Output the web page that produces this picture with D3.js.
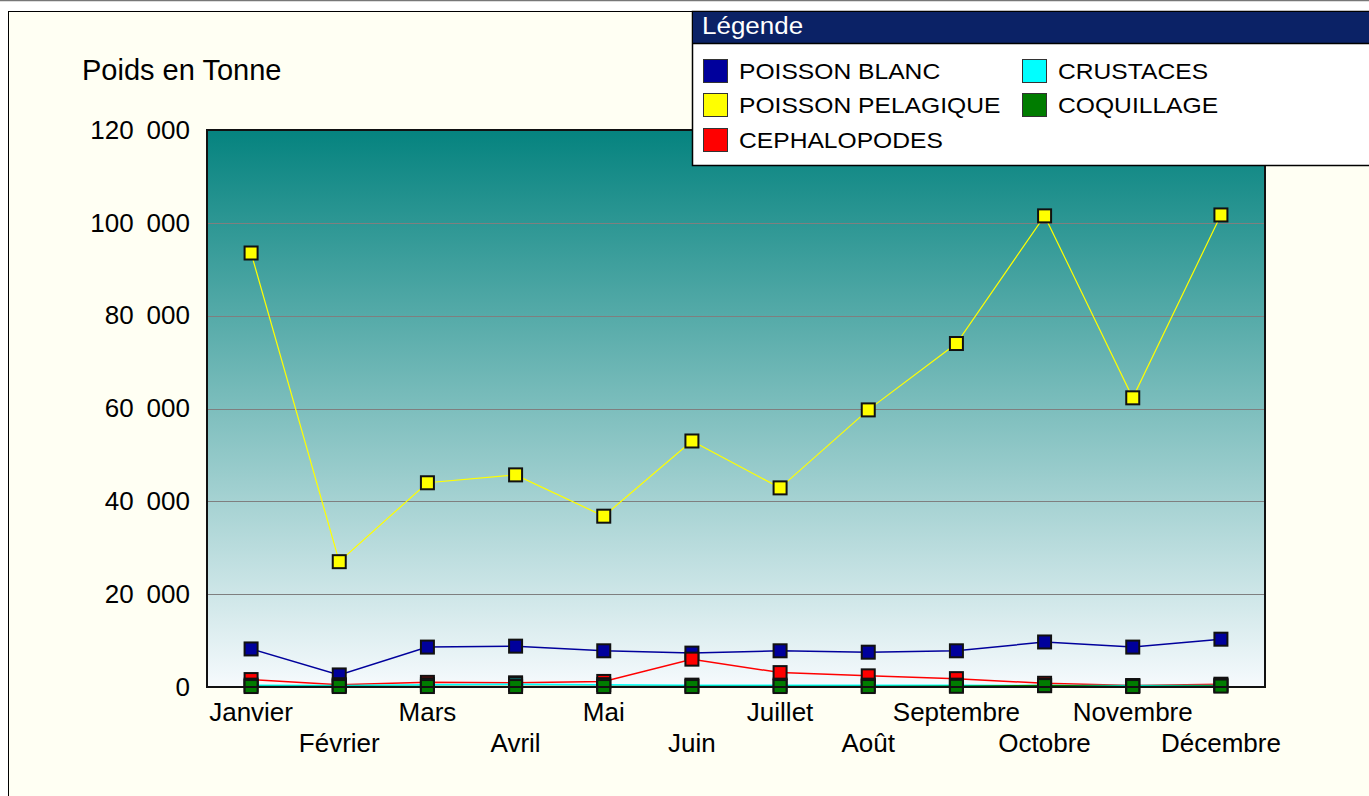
<!DOCTYPE html>
<html lang="fr">
<head>
    <meta charset="UTF-8">
    <title>Poids en Tonne</title>
    <style>
        body { margin: 0; background: #fff; }
        svg text { font-family: "Liberation Sans", Arial, sans-serif; }
    </style>
</head>
<body>
    <script src="https://d3js.org/d3.v7.min.js"></script>
    <script>
        // data
        const months = ['Janvier', 'Février', 'Mars', 'Avril', 'Mai', 'Juin', 'Juillet', 'Août', 'Septembre', 'Octobre', 'Novembre', 'Décembre'];
        const poissonBlanc = [8200, 2600, 8600, 8800, 7800, 7300, 7800, 7500, 7800, 9700, 8600, 10300];
        const poissonPelagique = [93500, 27000, 44000, 45700, 36800, 53000, 42900, 59700, 74000, 101500, 62300, 101700];
        const cephalopodes = [1600, 500, 1000, 900, 1200, 6000, 3100, 2400, 1800, 800, 300, 600];
        const crustaces = [400, 300, 500, 600, 500, 400, 400, 400, 400, 300, 300, 300];
        const coquillage = [100, 100, 100, 100, 100, 100, 100, 100, 150, 300, 100, 200];
        const yTicks = [0, 20000, 40000, 60000, 80000, 100000, 120000];

        const series = [
            { name: 'POISSON BLANC', values: poissonBlanc, color: '#00009c' },
            { name: 'POISSON PELAGIQUE', values: poissonPelagique, color: '#ffff00' },
            { name: 'CEPHALOPODES', values: cephalopodes, color: '#ff0000' },
            { name: 'CRUSTACES', values: crustaces, color: '#00ffff' },
            { name: 'COQUILLAGE', values: coquillage, color: '#007c00' }
        ];

        const W = 1369, H = 796;
        const svg = d3.select('body').append('svg')
            .attr('width', W)
            .attr('height', H);

        // outer frame
        svg.append('line').attr('x1', 0).attr('x2', W).attr('y1', 0.5).attr('y2', 0.5)
            .attr('stroke', '#777').attr('stroke-width', 1.5);
        svg.append('rect')
            .attr('x', 8.5).attr('y', 11.5).attr('width', W).attr('height', H)
            .attr('fill', '#fffff3').attr('stroke', '#000').attr('stroke-width', 1);

        const x = d3.scaleBand().domain(months).range([207, 1265]);
        const y = d3.scaleLinear().domain([0, 120000]).range([687, 130]);
        const cx = d => x(d) + x.bandwidth() / 2;

        // plot background gradient
        const grad = svg.append('defs').append('linearGradient')
            .attr('id', 'bg').attr('x1', 0).attr('x2', 0).attr('y1', 0).attr('y2', 1);
        grad.append('stop').attr('offset', '0%').attr('stop-color', '#05837f');
        grad.append('stop').attr('offset', '50%').attr('stop-color', '#7dbebd');
        grad.append('stop').attr('offset', '100%').attr('stop-color', '#f6fafd');

        svg.append('rect')
            .attr('x', 207).attr('y', 130).attr('width', 1058).attr('height', 557)
            .attr('fill', 'url(#bg)');

        // grid lines
        svg.selectAll('.grid')
            .data(yTicks.slice(1, -1))
            .enter()
            .append('line')
            .attr('x1', 207).attr('x2', 1265)
            .attr('y1', d => Math.round(y(d)) + 0.5).attr('y2', d => Math.round(y(d)) + 0.5)
            .attr('stroke', '#7f7f7f').attr('stroke-width', 1);

        // y axis labels
        const fmt = d => d3.format(',')(d).replace(/,/g, '\u2002');
        const yAxis = svg.append('g')
            .attr('transform', 'translate(207,0)')
            .call(d3.axisLeft(y).tickValues(yTicks).tickSize(0).tickPadding(17).tickFormat(fmt));
        yAxis.select('.domain').remove();
        yAxis.selectAll('text')
            .attr('font-size', 26)
            .attr('font-family', '"Liberation Sans", Arial, sans-serif')
            .attr('fill', '#000');

        // x axis labels, staggered
        const xAxis = svg.append('g')
            .attr('transform', 'translate(0,687)')
            .call(d3.axisBottom(x).tickSize(0));
        xAxis.select('.domain').remove();
        xAxis.selectAll('text')
            .attr('font-size', 26)
            .attr('font-family', '"Liberation Sans", Arial, sans-serif')
            .attr('fill', '#000')
            .attr('dy', 0)
            .attr('y', (d, i) => i % 2 === 0 ? 34 : 65);

        svg.append('text')
            .attr('x', 82).attr('y', 80)
            .attr('font-size', 29)
            .text('Poids en Tonne');

        // lines
        const line = d3.line()
            .x((d, i) => cx(months[i]))
            .y(d => y(d));

        series.forEach(s => {
            svg.append('path')
                .datum(s.values)
                .attr('d', line)
                .attr('fill', 'none')
                .attr('stroke', s.color)
                .attr('stroke-width', s.name === 'POISSON PELAGIQUE' ? 1.2 : 1.5);
        });

        // markers
        series.forEach(s => {
            svg.append('g').selectAll('rect')
                .data(s.values)
                .enter()
                .append('rect')
                .attr('x', (d, i) => cx(months[i]) - 6.5)
                .attr('y', d => y(d) - 6.5)
                .attr('width', 13).attr('height', 13)
                .attr('fill', s.color)
                .attr('stroke', '#111').attr('stroke-width', 2);
        });

        // plot border
        svg.append('rect')
            .attr('x', 207).attr('y', 130).attr('width', 1058).attr('height', 557)
            .attr('fill', 'none').attr('stroke', '#111').attr('stroke-width', 2);

        // legend
        const lg = svg.append('g');
        lg.append('rect')
            .attr('x', 692.5).attr('y', 11.5).attr('width', 700).attr('height', 154)
            .attr('fill', '#fff').attr('stroke', '#000').attr('stroke-width', 1.5);
        lg.append('rect')
            .attr('x', 693).attr('y', 12).attr('width', 700).attr('height', 31)
            .attr('fill', '#0b2266');
        lg.append('line')
            .attr('x1', 693).attr('x2', W).attr('y1', 43.5).attr('y2', 43.5)
            .attr('stroke', '#000').attr('stroke-width', 1.5);
        lg.append('text')
            .attr('transform', 'translate(702,34) scale(1.13,1)')
            .attr('font-size', 23)
            .attr('fill', '#fff')
            .text('Légende');

        const legendPos = [
            { col: 0, row: 0 }, { col: 0, row: 1 }, { col: 0, row: 2 },
            { col: 1, row: 0 }, { col: 1, row: 1 }
        ];
        const colX = [703, 1022];
        const rowY = [71, 105, 140];
        series.forEach((s, i) => {
            const p = legendPos[i];
            const lx = colX[p.col], ly = rowY[p.row];
            lg.append('rect')
                .attr('x', lx + 0.5).attr('y', ly - 11.5)
                .attr('width', 24).attr('height', 23)
                .attr('fill', s.color)
                .attr('stroke', '#333').attr('stroke-width', 1);
            lg.append('text')
                .attr('transform', `translate(${lx + 36},${ly + 8}) scale(1.12,1)`)
                .attr('font-size', 22)
                .attr('fill', '#000')
                .text(s.name);
        });
    </script>
</body>
</html>
